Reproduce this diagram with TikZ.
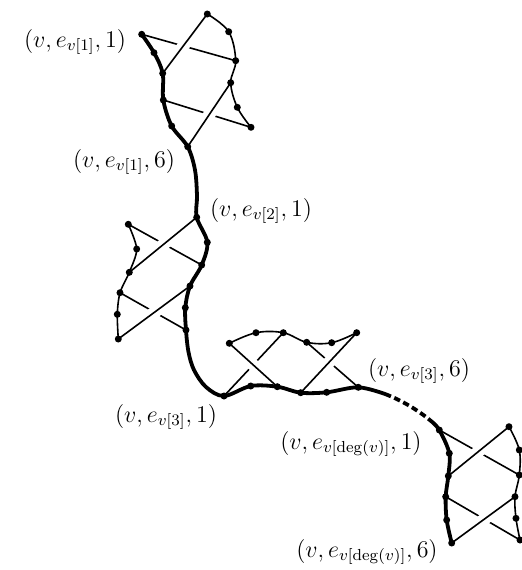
\documentclass[tikz,border=0pt]{standalone}
\usetikzlibrary{calc}
\newcommand\overedge[2]{%
  \draw[white,line width=6pt] ($(#1)!0.32!(#2)$) -- ($(#1)!0.68!(#2)$);
  \draw[thinedge] (#1) -- (#2);}
\begin{document}
\begin{tikzpicture}[x=0.5pt,y=-0.5pt,
  thinedge/.style={line width=0.8pt,line cap=round},
  thickpath/.style={line width=1.9pt,line cap=round,line join=round},
  dot/.style={circle,fill=black,inner sep=0pt,minimum size=3.5pt},
  lbl/.style={font=\fontsize{12}{14}\selectfont,inner sep=0pt}]
\useasboundingbox (0,0) rectangle (522,570);
% gadget 1
\coordinate (L1) at (141.7,34.3);
\coordinate (L2) at (154,52.7);
\coordinate (L3) at (162.7,73.3);
\coordinate (L4) at (163.3,100);
\coordinate (L5) at (171.7,126);
\coordinate (L6) at (187.7,146.7);
\coordinate (R1) at (207.3,14);
\coordinate (R2) at (228.7,31.7);
\coordinate (R3) at (235.7,60.7);
\coordinate (R4) at (230.7,82.7);
\coordinate (R5) at (237.3,107.3);
\coordinate (R6) at (251,127.3);
% gadget 2
\coordinate (P1) at (196.7,217.3);
\coordinate (P2) at (207.3,242.3);
\coordinate (P3) at (201.7,265);
\coordinate (P4) at (190,286);
\coordinate (P5) at (185.3,307.7);
\coordinate (P6) at (186,330);
\coordinate (Q1) at (128.3,224.3);
\coordinate (Q2) at (136.7,249);
\coordinate (Q3) at (129.3,272.3);
\coordinate (Q4) at (120,292.7);
\coordinate (Q5) at (117.3,314.3);
\coordinate (Q6) at (118.3,339);
% gadget 3
\coordinate (B1) at (224,396);
\coordinate (B2) at (250.7,386);
\coordinate (B3) at (277.3,386.7);
\coordinate (B4) at (300.7,392.7);
\coordinate (B5) at (326.7,392.3);
\coordinate (B6) at (358.3,387.3);
\coordinate (T1) at (229.3,343.3);
\coordinate (T2) at (256,332.7);
\coordinate (T3) at (283.3,332.7);
\coordinate (T4) at (306.7,342.3);
\coordinate (T5) at (331.7,342.7);
\coordinate (T6) at (356.7,332.7);
% gadget 4
\coordinate (D1) at (439.3,430);
\coordinate (D2) at (449.3,453.3);
\coordinate (D3) at (448.3,476);
\coordinate (D4) at (445.7,496.7);
\coordinate (D5) at (446.7,520);
\coordinate (D6) at (451.7,543);
\coordinate (E1) at (509,426.7);
\coordinate (E2) at (519.3,450);
\coordinate (E3) at (519.3,475);
\coordinate (E4) at (515,496.7);
\coordinate (E5) at (516,518.3);
\coordinate (E6) at (520,540);
% path helpers
\coordinate (m1) at (195,170);
\coordinate (m2) at (197,196);
\coordinate (m3) at (188.5,352);
\coordinate (m4) at (194,370);
\coordinate (m5) at (206,387);
\coordinate (m6) at (385,394);
\coordinate (m7) at (431,421);

% thin side chains
\draw[thinedge] plot[smooth,tension=0.6] coordinates {(R1) (R2) (R3) (R4) (R5) (R6)};
\draw[thinedge] plot[smooth,tension=0.5] coordinates {(Q1) (Q2) (Q3) (Q4) (Q5) (Q6)};
\draw[thinedge] plot[smooth,tension=0.6] coordinates {(T1) (T2) (T3) (T4) (T5) (T6)};
\draw[thinedge] plot[smooth,tension=0.6] coordinates {(E1) (E2) (E3) (E4) (E5) (E6)};

% main thick path
\draw[thickpath] plot[smooth,tension=0.55] coordinates {(L1) (L2) (L3) (L4) (L5) (L6) (m1) (m2) (P1) (P2) (P3) (P4) (P5) (P6) (m3) (m4) (m5) (B1) (B2) (B3) (B4) (B5) (B6) (m6)};
\draw[thickpath,line cap=butt,dash pattern=on 3.2pt off 1.8pt] (m6) .. controls (401,400) and (418,410) .. (m7);
\draw[thickpath] plot[smooth,tension=0.55] coordinates {(m7) (D1) (D2) (D3) (D4) (D5) (D6)};

% cross edges: broken ones first, then the ones drawn over
\draw[thinedge] (L1) -- (R3);
\overedge{L3}{R1}
\draw[thinedge] (L4) -- (R6);
\overedge{L6}{R4}

\draw[thinedge] (Q1) -- (P3);
\overedge{P1}{Q3}
\draw[thinedge] (Q4) -- (P6);
\overedge{Q6}{P4}

\draw[thinedge] (B1) -- (T3);
\overedge{T1}{B3}
\draw[thinedge] (T4) -- (B6);
\overedge{B4}{T6}

\draw[thinedge] (D1) -- (E3);
\overedge{E1}{D3}
\draw[thinedge] (D4) -- (E6);
\overedge{E4}{D6}

% vertices
\foreach \n in {L1,L2,L3,L4,L5,L6,R1,R2,R3,R4,R5,R6,P1,P2,P3,P4,P5,P6,Q1,Q2,Q3,Q4,Q5,Q6,B1,B2,B3,B4,B5,B6,T1,T2,T3,T4,T5,T6,D1,D2,D3,D4,D5,D6,E1,E2,E3,E4,E5,E6}
  \node[dot] (d\n) at (\n) {};

% labels
\node[lbl] (la) at (75,42) {$(v,e_{v[1]},1)$};
\node[lbl] (lb) at (124,162) {$(v,e_{v[1]},6)$};
\node[lbl] (lc) at (261,211) {$(v,e_{v[2]},1)$};
\node[lbl] (ld) at (166,417) {$(v,e_{v[3]},1)$};
\node[lbl] (le) at (419,371) {$(v,e_{v[3]},6)$};
\node[lbl] (lf) at (351,444) {$(v,e_{v[\deg(v)]},1)$};
\node[lbl] (lg) at (367,552) {$(v,e_{v[\deg(v)]},6)$};
\end{tikzpicture}
\end{document}
